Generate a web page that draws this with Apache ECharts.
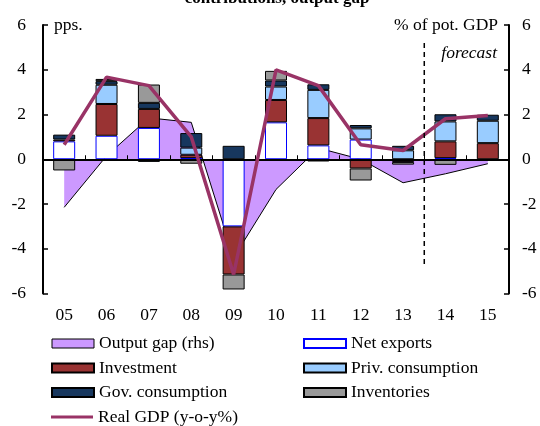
<!DOCTYPE html>
<html><head><meta charset="utf-8">
<script src="https://cdn.jsdelivr.net/npm/echarts@6/dist/echarts.min.js"></script>
<style>html,body{margin:0;padding:0;background:#fff}#c{width:540px;height:426px}</style>
</head><body><div id="c"></div>
<script>
const categories = ['05','06','07','08','09','10','11','12','13','14','15'];
const netExports = [0.8, 1.05, 1.4, 0.05, -3.0, 1.65, 0.62, 0.88, null, 0.05, null];
const investment = [0.08, 1.42, 0.85, 0.15, -2.15, 1.0, 1.22, -0.41, -0.12, 0.75, 0.72];
const privConsumption = [null, 0.86, -0.12, 0.32, null, 0.6, 1.26, 0.5, 0.4, 0.89, 1.0];
const govConsumption = [0.22, 0.16, 0.27, 0.65, 0.6, 0.27, 0.25, 0.15, 0.2, 0.32, 0.27];
const inventories = [-0.5, 0.1, 0.82, -0.2, -0.67, 0.43, -0.1, -0.54, -0.12, -0.25, -0.05];
const outputGap = [-2.15, 0.15, 1.85, 1.65, -4.4, -1.35, 0.5, 0.0, -1.05, -0.65, -0.2];
const realGdp = [0.65, 3.67, 3.29, 1.0, -5.15, 3.99, 3.29, 0.65, 0.39, 1.81, 1.96];
const yTicks = [-6, -4, -2, 0, 2, 4, 6];
const forecastFrom = '14';
const forecastRange = [5.2, -4.75];

const font = 'Liberation Serif';
const fs = 17.5;
const chart = echarts.init(document.getElementById('c'), null, {renderer: 'canvas'});

function bar(name, data, color, border) {
  return {name: name, type: 'bar', data: data, stack: 'c', barWidth: 22,
    itemStyle: {color: color, borderColor: border, borderWidth: 1},
    emphasis: {disabled: true}, z: 3};
}
function yAx(pos, margin) {
  return {type: 'value', min: yTicks[0], max: yTicks[yTicks.length - 1], interval: 2, position: pos,
    axisLine: {show: true, onZero: false, lineStyle: {color: '#000', width: 2}},
    axisTick: {show: true, inside: true, length: 5, lineStyle: {color: '#000', width: 1.5}},
    splitLine: {show: false},
    axisLabel: {margin: margin, fontFamily: font, fontSize: fs, color: '#000',
      formatter: v => yTicks.includes(v) ? String(v) : ''}};
}
const legendText = {fontFamily: font, fontSize: fs, color: '#000', lineHeight: 18};
function legendBox(left, top, items, h) {
  return {orient: 'vertical', left: left, top: top, padding: 0, itemWidth: 42, itemHeight: h || 9,
    itemGap: 6.5, selectedMode: false, textStyle: legendText, data: items};
}

chart.setOption({
  animation: false,
  grid: {left: 43, right: 31, top: 25, bottom: 132.5, containLabel: false},
  xAxis: [
    {type: 'category', data: categories, position: 'bottom',
      axisLine: {show: false, onZero: false}, axisTick: {show: false},
      axisLabel: {margin: 13, fontFamily: font, fontSize: fs, color: '#000'}},
    {type: 'category', data: categories, position: 'bottom', z: 4,
      axisLine: {show: true, onZero: true, lineStyle: {color: '#000', width: 2}},
      axisTick: {show: true, inside: true, length: 4, lineStyle: {color: '#000', width: 1}},
      axisLabel: {show: false}}
  ],
  yAxis: [yAx('left', 17), yAx('right', 13)],
  legend: [
    legendBox(51, 334.5, [
      {name: 'Output gap (rhs)', icon: 'rect', itemStyle: {color: '#cc99ff', borderColor: '#000', borderWidth: 1}},
      {name: 'Investment', icon: 'rect'},
      {name: 'Gov. consumption', icon: 'rect'}
    ]),
    legendBox(303, 334.5, [
      {name: 'Net exports', icon: 'rect'},
      {name: 'Priv. consumption', icon: 'rect'},
      {name: 'Inventories', icon: 'rect'}
    ]),
    legendBox(51, 408, [
      {name: 'Real GDP (y-o-y%)', icon: 'rect', itemStyle: {color: '#993366', borderWidth: 0}}
    ], 3)
  ],
  series: [
    {name: 'Output gap (rhs)', type: 'line', yAxisIndex: 1, data: outputGap, symbol: 'none',
      lineStyle: {color: '#000', width: 1}, itemStyle: {color: '#cc99ff'},
      areaStyle: {color: '#cc99ff', opacity: 1}, z: 1, emphasis: {disabled: true}},
    bar('Net exports', netExports, '#ffffff', '#0000ff'),
    bar('Investment', investment, '#993333', '#000'),
    bar('Priv. consumption', privConsumption, '#99ccff', '#000'),
    bar('Gov. consumption', govConsumption, '#17375e', '#000'),
    bar('Inventories', inventories, '#999999', '#000'),
    {name: 'Real GDP (y-o-y%)', type: 'line', data: realGdp, symbol: 'none',
      lineStyle: {color: '#993366', width: 3.5}, itemStyle: {color: '#993366'}, z: 5,
      emphasis: {disabled: true}}
  ]
});

const idx = categories.indexOf(forecastFrom);
const xa = chart.convertToPixel({xAxisIndex: 0}, categories[idx - 1]);
const xb = chart.convertToPixel({xAxisIndex: 0}, categories[idx]);
const fx = (xa + xb) / 2;
const fy1 = chart.convertToPixel({yAxisIndex: 0}, forecastRange[0]);
const fy2 = chart.convertToPixel({yAxisIndex: 0}, forecastRange[1]);

chart.setOption({
  graphic: [
    {type: 'line', shape: {x1: fx, y1: fy1, x2: fx, y2: fy2},
      style: {stroke: '#000', lineWidth: 1.5, lineDash: [5, 4]}, z: 6},
    {type: 'text', x: 277, y: 7, style: {text: 'contributions, output gap', font: 'bold 17px "Liberation Serif"',
      fill: '#000', align: 'center', verticalAlign: 'bottom'}},
    {type: 'text', x: 54, y: 25, style: {text: 'pps.', font: fs + 'px "Liberation Serif"', fill: '#000',
      align: 'left', verticalAlign: 'middle'}},
    {type: 'text', x: 498, y: 25, style: {text: '% of pot. GDP', font: fs + 'px "Liberation Serif"', fill: '#000',
      align: 'right', verticalAlign: 'middle'}},
    {type: 'text', x: 497, y: 53, style: {text: 'forecast', font: 'italic ' + fs + 'px "Liberation Serif"', fill: '#000',
      align: 'right', verticalAlign: 'middle'}}
  ]
});
</script></body></html>
